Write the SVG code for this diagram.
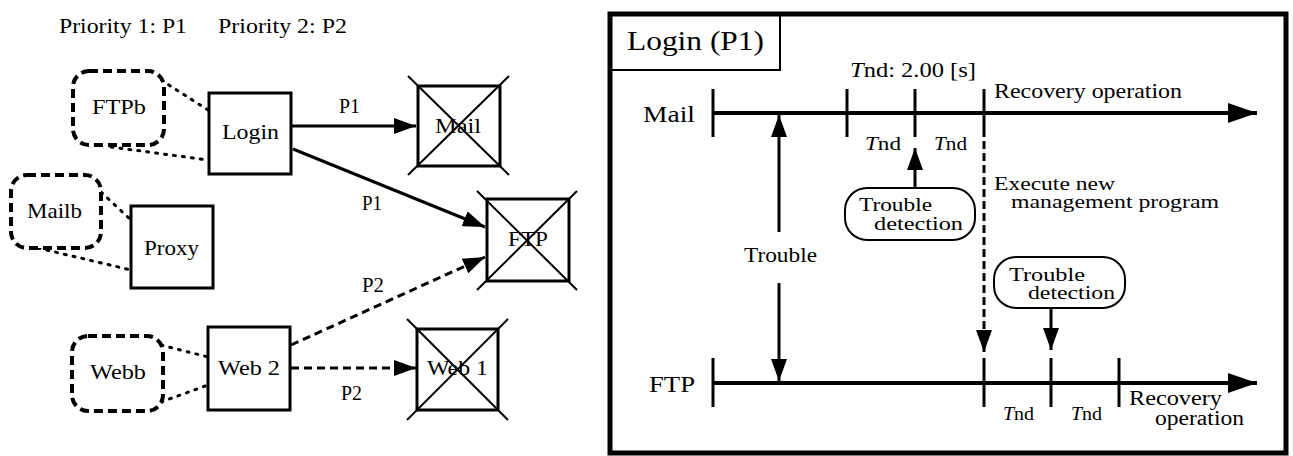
<svg xmlns="http://www.w3.org/2000/svg" width="1293" height="456" viewBox="0 0 1293 456" font-family="'Liberation Serif', 'Times New Roman', Times, serif">
<style>
text{fill:#000}
.box{fill:#fff;stroke:#000;stroke-width:3}
.grp{fill:#fff;stroke:#000;stroke-width:4;stroke-dasharray:9 5}
.cross{stroke:#000;stroke-width:2}
.dot{stroke:#000;stroke-width:3;stroke-dasharray:2 7;stroke-linecap:round;fill:none}
.ln{stroke:#000;stroke-width:3;fill:none}
.dash{stroke:#000;stroke-width:3;stroke-dasharray:8 5;fill:none}
.tl{stroke:#000;stroke-width:4;fill:none}
.tick{stroke:#000;stroke-width:3}
.pill{fill:#fff;stroke:#000;stroke-width:2}
</style>
<defs>
<marker id="ah" markerUnits="userSpaceOnUse" markerWidth="22" markerHeight="16" refX="22" refY="8" orient="auto"><path d="M0,0L22,8L0,16z"/></marker>
<marker id="big" markerUnits="userSpaceOnUse" markerWidth="29" markerHeight="20" refX="29" refY="10" orient="auto"><path d="M0,0L29,10L0,20z"/></marker>
</defs>

<g id="legend">
<text x="59" y="33" font-size="21" textLength="128" lengthAdjust="spacingAndGlyphs">Priority 1: P1</text>
<text x="218" y="33" font-size="21" textLength="129" lengthAdjust="spacingAndGlyphs">Priority 2: P2</text>
</g>

<g id="connectors">
<line class="dot" x1="161" y1="80" x2="208" y2="110"/>
<line class="dot" x1="111" y1="147" x2="208" y2="160"/>
<line class="dot" x1="101" y1="192" x2="131" y2="220"/>
<line class="dot" x1="38" y1="248" x2="131" y2="270"/>
<line class="dot" x1="161" y1="345" x2="208" y2="357"/>
<line class="dot" x1="161" y1="402" x2="208" y2="385"/>
<line class="ln" x1="292" y1="126" x2="416" y2="126" marker-end="url(#ah)"/>
<line class="ln" x1="293" y1="149" x2="485" y2="227" marker-end="url(#ah)"/>
<line class="dash" x1="291" y1="345" x2="485" y2="257" marker-end="url(#ah)"/>
<line class="dash" x1="291" y1="368" x2="416" y2="368" marker-end="url(#ah)"/>
<text x="339" y="113" font-size="20" textLength="21" lengthAdjust="spacingAndGlyphs">P1</text>
<text x="362" y="210" font-size="20" textLength="20" lengthAdjust="spacingAndGlyphs">P1</text>
<text x="362" y="292" font-size="20" textLength="22" lengthAdjust="spacingAndGlyphs">P2</text>
<text x="341" y="400" font-size="20" textLength="21" lengthAdjust="spacingAndGlyphs">P2</text>
</g>

<g id="FTPb">
<rect class="grp" x="73" y="71" width="91" height="74" rx="16"/>
<text x="92" y="114" font-size="22" textLength="54" lengthAdjust="spacingAndGlyphs">FTPb</text>
</g>
<g id="Login">
<rect class="box" x="209" y="93" width="82" height="81"/>
<text x="222" y="139" font-size="22" textLength="57" lengthAdjust="spacingAndGlyphs">Login</text>
</g>
<g id="Mail">
<rect class="box" x="418" y="86" width="82" height="80"/>
<text x="435" y="133" font-size="22" textLength="46" lengthAdjust="spacingAndGlyphs">Mail</text>
<line class="cross" x1="408" y1="76" x2="509" y2="175"/>
<line class="cross" x1="509" y1="76" x2="408" y2="175"/>
</g>
<g id="Mailb">
<rect class="grp" x="11" y="175" width="90" height="73" rx="16"/>
<text x="27" y="218" font-size="22" textLength="55" lengthAdjust="spacingAndGlyphs">Mailb</text>
</g>
<g id="Proxy">
<rect class="box" x="131" y="206" width="82" height="82"/>
<text x="144" y="255" font-size="22" textLength="55" lengthAdjust="spacingAndGlyphs">Proxy</text>
</g>
<g id="FTP">
<rect class="box" x="487" y="199" width="82" height="82"/>
<text x="508" y="246" font-size="22" textLength="40" lengthAdjust="spacingAndGlyphs">FTP</text>
<line class="cross" x1="477" y1="191" x2="577" y2="290"/>
<line class="cross" x1="577" y1="191" x2="477" y2="290"/>
</g>
<g id="Webb">
<rect class="grp" x="72" y="336" width="91" height="75" rx="16"/>
<text x="90" y="379" font-size="22" textLength="56" lengthAdjust="spacingAndGlyphs">Webb</text>
</g>
<g id="Web2">
<rect class="box" x="208" y="327" width="82" height="83"/>
<text x="218" y="375" font-size="22" textLength="62" lengthAdjust="spacingAndGlyphs">Web 2</text>
</g>
<g id="Web1">
<rect class="box" x="417" y="329" width="81" height="81"/>
<text x="427" y="375" font-size="22" textLength="61" lengthAdjust="spacingAndGlyphs">Web 1</text>
<line class="cross" x1="407" y1="319" x2="508" y2="420"/>
<line class="cross" x1="508" y1="319" x2="407" y2="420"/>
</g>

<g id="panel">
<rect x="610" y="14" width="676" height="439" fill="#fff" stroke="#000" stroke-width="5"/>
<path d="M780,14V70H610" fill="none" stroke="#000" stroke-width="2"/>
<text x="627" y="50" font-size="27" textLength="137" lengthAdjust="spacingAndGlyphs">Login (P1)</text>
<text x="850" y="77" font-size="22" textLength="126" lengthAdjust="spacingAndGlyphs"><tspan font-style="italic">T</tspan>nd: 2.00 [s]</text>
</g>

<g id="mail-timeline">
<text x="643" y="122" font-size="23" textLength="52" lengthAdjust="spacingAndGlyphs">Mail</text>
<line class="tl" x1="713" y1="113" x2="1257" y2="113" marker-end="url(#big)"/>
<line class="tick" x1="713" y1="89" x2="713" y2="137"/>
<line class="tick" x1="847" y1="89" x2="847" y2="137"/>
<line class="tick" x1="915" y1="89" x2="915" y2="137"/>
<line class="tick" x1="984" y1="89" x2="984" y2="137"/>
<text x="994" y="98" font-size="21" textLength="188" lengthAdjust="spacingAndGlyphs">Recovery operation</text>
<text x="865" y="150" font-size="18" textLength="36" lengthAdjust="spacingAndGlyphs"><tspan font-style="italic">T</tspan>nd</text>
<text x="934" y="150" font-size="18" textLength="33" lengthAdjust="spacingAndGlyphs"><tspan font-style="italic">T</tspan>nd</text>
</g>

<g id="ftp-timeline">
<text x="649" y="392" font-size="23" textLength="46" lengthAdjust="spacingAndGlyphs">FTP</text>
<line class="tl" x1="713" y1="383" x2="1257" y2="383" marker-end="url(#big)"/>
<line class="tick" x1="713" y1="358" x2="713" y2="407"/>
<line class="tick" x1="984" y1="358" x2="984" y2="407"/>
<line class="tick" x1="1051" y1="358" x2="1051" y2="407"/>
<line class="tick" x1="1119" y1="358" x2="1119" y2="407"/>
<text x="1003" y="420" font-size="18" textLength="31" lengthAdjust="spacingAndGlyphs"><tspan font-style="italic">T</tspan>nd</text>
<text x="1071" y="420" font-size="18" textLength="31" lengthAdjust="spacingAndGlyphs"><tspan font-style="italic">T</tspan>nd</text>
<text x="1129" y="405" font-size="20" textLength="93" lengthAdjust="spacingAndGlyphs">Recovery</text>
<text x="1155" y="425" font-size="20" textLength="89" lengthAdjust="spacingAndGlyphs">operation</text>
</g>

<g id="trouble">
<line class="ln" x1="779" y1="232" x2="779" y2="115" marker-end="url(#ah)"/>
<line class="ln" x1="779" y1="283" x2="779" y2="381" marker-end="url(#ah)"/>
<text x="744" y="262" font-size="21" textLength="73" lengthAdjust="spacingAndGlyphs">Trouble</text>
</g>

<g id="detection-mail">
<rect class="pill" x="845" y="188" width="130" height="52" rx="22"/>
<text x="859" y="211" font-size="19" textLength="73" lengthAdjust="spacingAndGlyphs">Trouble</text>
<text x="874" y="230" font-size="19" textLength="89" lengthAdjust="spacingAndGlyphs">detection</text>
<line class="ln" x1="915" y1="188" x2="915" y2="148" marker-end="url(#ah)"/>
</g>

<g id="execute">
<line stroke="#000" stroke-width="3" stroke-dasharray="8 4" x1="984" y1="141" x2="984" y2="352" marker-end="url(#ah)"/>
<text x="994" y="190" font-size="18" textLength="121" lengthAdjust="spacingAndGlyphs">Execute new</text>
<text x="1011" y="208" font-size="18" textLength="208" lengthAdjust="spacingAndGlyphs">management program</text>
</g>

<g id="detection-ftp">
<rect class="pill" x="994" y="257" width="131" height="51" rx="22"/>
<text x="1009" y="281" font-size="19" textLength="76" lengthAdjust="spacingAndGlyphs">Trouble</text>
<text x="1028" y="299" font-size="19" textLength="87" lengthAdjust="spacingAndGlyphs">detection</text>
<line class="ln" x1="1051" y1="308" x2="1051" y2="350" marker-end="url(#ah)"/>
</g>
</svg>
